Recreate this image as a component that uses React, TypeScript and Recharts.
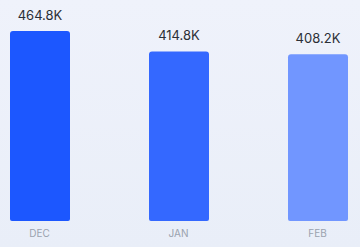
import React from "react";
import { BarChart, Bar, XAxis, YAxis, Cell, LabelList } from "recharts";

const months = ["DEC", "JAN", "FEB"];
const values = [464.8, 414.8, 408.2];
const barColors = ["#1c57ff", "#3468ff", "#7196ff"];

const data = months.map((m, i) => ({ month: m, value: values[i] }));

export default function App() {
  return (
    <div
      style={{
        position: "absolute",
        left: 0,
        top: 0,
        width: 360,
        height: 247,
        background: "linear-gradient(180deg, #eff2fb 0%, #e9eef8 100%)",
        fontFamily: "Inter, 'Noto Sans', sans-serif",
      }}
    >
      <BarChart
        width={360}
        height={247}
        data={data}
        margin={{ top: 31, right: -27, bottom: 0, left: -30 }}
      >
        <XAxis
          dataKey="month"
          axisLine={false}
          tickLine={false}
          height={26}
          tick={{ fill: "#9aa2ae", fontSize: 10 }}
          tickMargin={3}
        />
        <YAxis hide domain={[0, 464.8]} />
        <Bar dataKey="value" barSize={60} radius={[3, 3, 2, 2]} isAnimationActive={false}>
          {data.map((d, i) => (
            <Cell key={d.month} fill={barColors[i]} />
          ))}
          <LabelList
            dataKey="value"
            position="top"
            offset={11}
            formatter={(v: number) => `${v.toFixed(1)}K`}
            style={{ fill: "#2b2f36", fontSize: 13 }}
          />
        </Bar>
      </BarChart>
    </div>
  );
}
